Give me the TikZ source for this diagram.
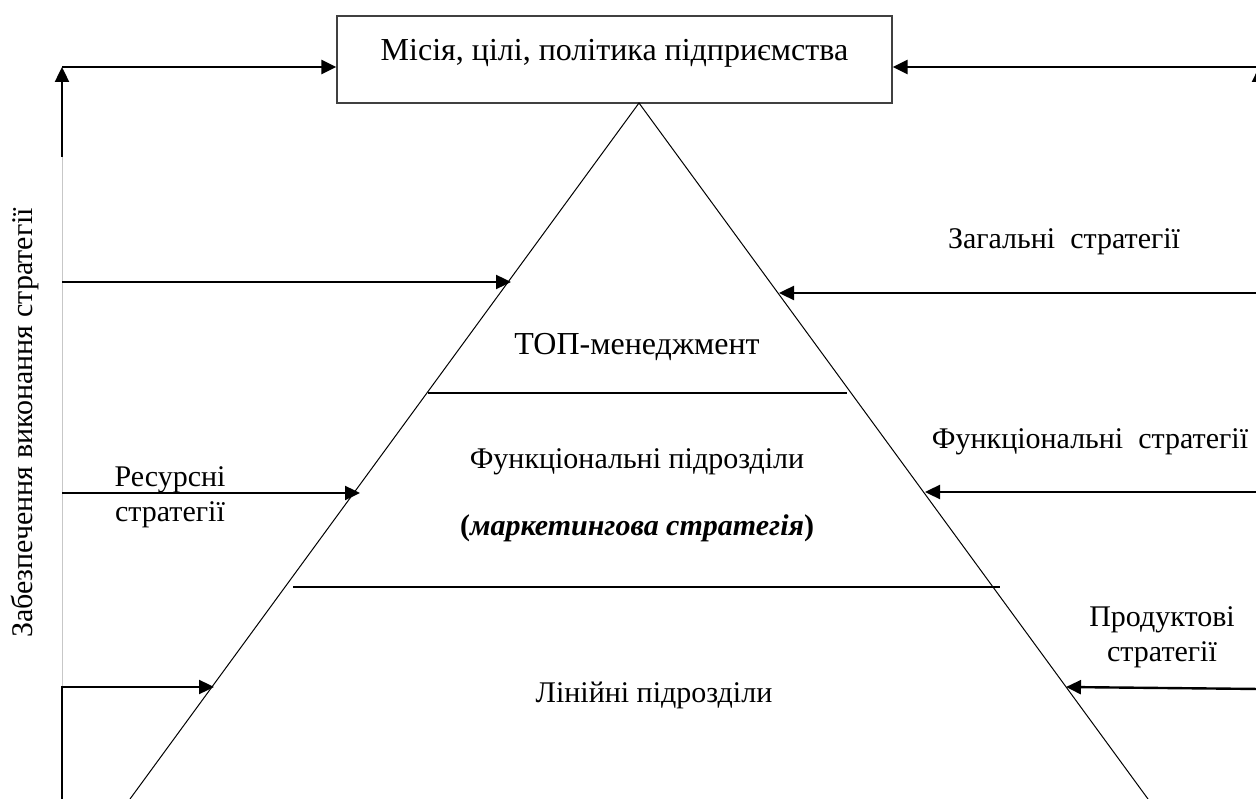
\documentclass[tikz,border=0pt]{standalone}
\usepackage{fontspec}
\setmainfont{Liberation Serif}
\usetikzlibrary{arrows.meta}
\begin{document}
\begin{tikzpicture}[x=1pt,y=-1pt,
  lbl/.style={font=\fontsize{30}{35}\selectfont, inner sep=0pt, align=center},
  big/.style={font=\fontsize{32}{38}\selectfont, inner sep=0pt, align=center},
  feed/.style={line width=2.4pt, line join=miter, -{Triangle[length=15pt,width=14pt]}},
  slope/.style={line width=1pt},
  tier/.style={line width=2.2pt},
  guide/.style={line width=0.8pt, black!22}]
\useasboundingbox (0,0) rectangle (1256,799);
\clip (0,0) rectangle (1256,799);

% mission box
\node[draw=black!75, line width=1.3pt, minimum width=555pt, minimum height=87pt, inner sep=0pt] (box) at (614.5,59.5) {};
\node[big, anchor=base] (mission) at (614.5,61) {Місія, цілі, політика підприємства};

% pyramid
\coordinate (apex) at (639,103);
\coordinate (bl) at (130,799);
\coordinate (br) at (1148,799);
\draw[slope] (bl) -- (apex) -- (br);
\coordinate (t1l) at (428,393); \coordinate (t1r) at (847,393);
\coordinate (t2l) at (293,587); \coordinate (t2r) at (1000,587);
\draw[tier] (t1l) -- (t1r);
\draw[tier] (t2l) -- (t2r);

% pyramid levels
\node[big] (top) at (637,347) {ТОП-менеджмент};
\node[lbl] (func) at (637,462) {Функціональні підрозділи};
\node[lbl] (mkt) at (637,528) {\textbf{(\textit{маркетингова стратегія})}};
\node[lbl] (line) at (654,695) {Лінійні підрозділи};

% left feedback column
\coordinate (lt) at (62,67);
\coordinate (lg) at (62,157);
\coordinate (lb) at (62,687);
\coordinate (lfoot) at (62,805);
\coordinate (la1) at (62,282);  \coordinate (ta1) at (511,282);
\coordinate (la2) at (62,493);  \coordinate (ta2) at (360,493);
\coordinate (ta3) at (214,687);
\draw[feed] (lg) -- (lt);
\draw[feed] (lt) -- (box.west |- lt);
\draw[guide] (lg) -- (lb);
\draw[feed] (lfoot) -- (lb) -- (ta3);
\draw[feed] (la1) -- (ta1);
\draw[feed] (la2) -- (ta2);
\node[lbl, rotate=90] (ensure) at (25,423) {Забезпечення виконання стратегії};
\node[lbl] (res) at (170,497) {Ресурсні\\стратегії};

% right inputs
\coordinate (rt) at (1259,67);
\coordinate (rlow) at (1259,300);
\coordinate (ra1) at (1260,293); \coordinate (tb1) at (779,293);
\coordinate (ra2) at (1260,492); \coordinate (tb2) at (925,492);
\coordinate (ra3) at (1260,689); \coordinate (tb3) at (1066,687);
\draw[feed] (rlow) -- (rt);
\draw[feed] (1260,67) -- (box.east |- rt);
\draw[feed] (ra1) -- (tb1);
\draw[feed] (ra2) -- (tb2);
\draw[feed] (ra3) -- (tb3);
\node[lbl] (gen) at (1064,242) {Загальні\ \ стратегії};
\node[lbl] (fstr) at (1090,442) {Функціональні\ \ стратегії};
\node[lbl] (prod) at (1162,637) {Продуктові\\стратегії};
\end{tikzpicture}
\end{document}
